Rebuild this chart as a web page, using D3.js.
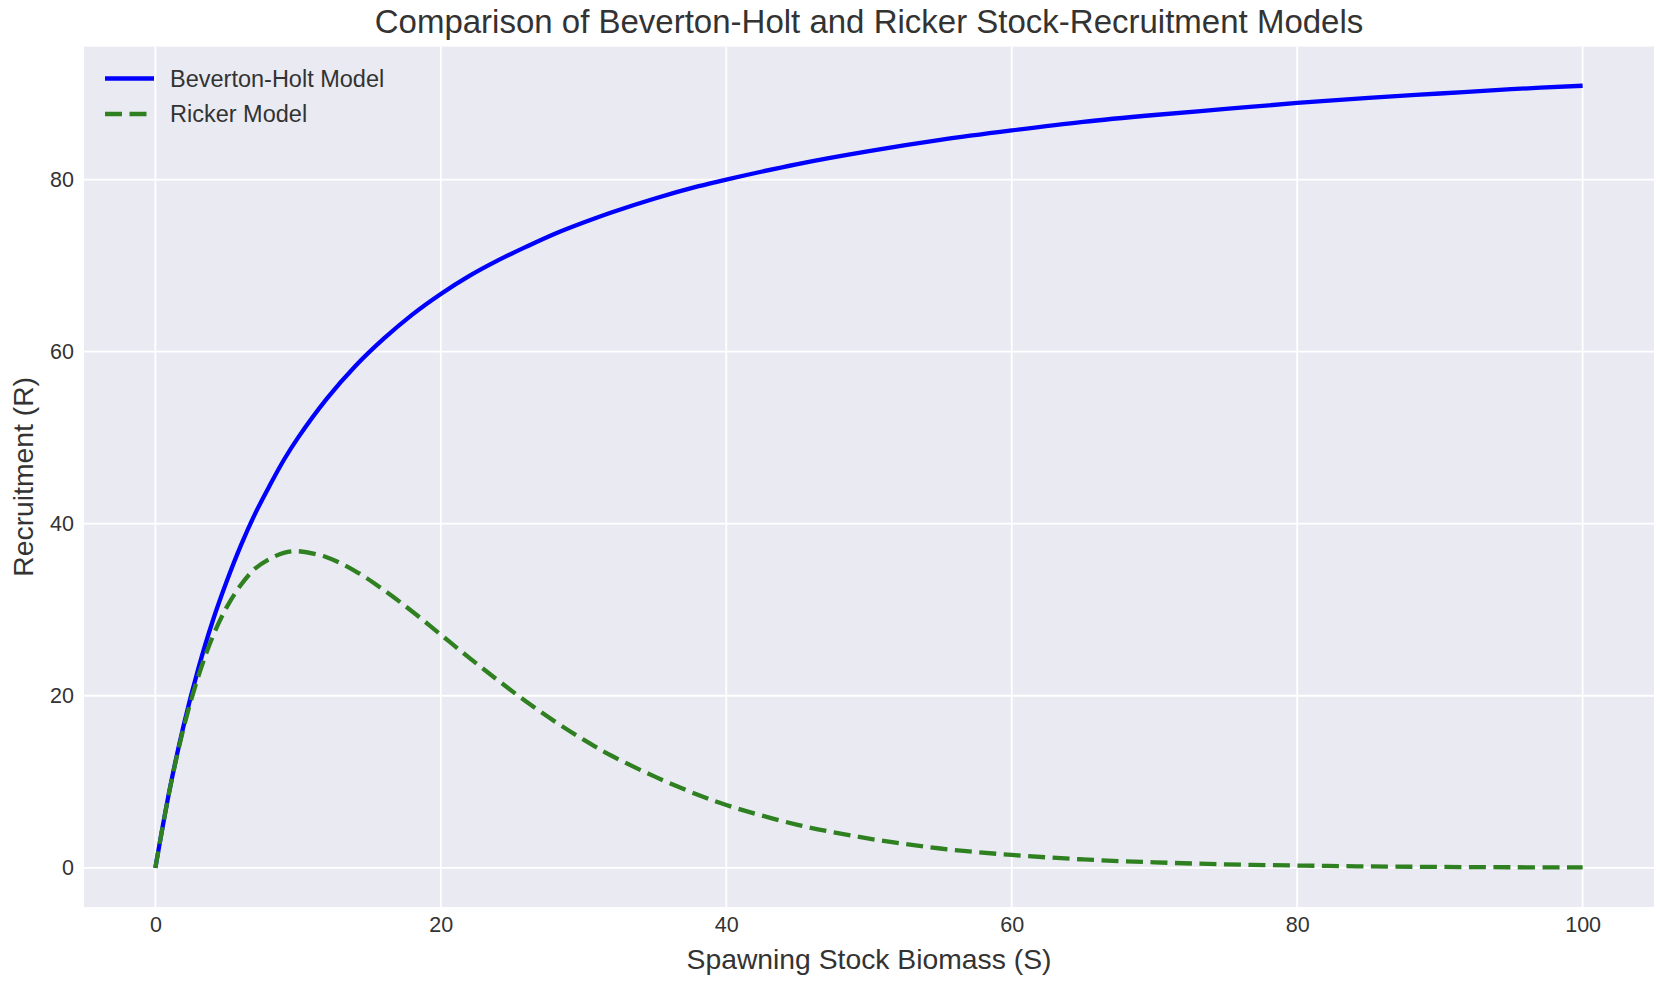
<!DOCTYPE html>
<html>
<head>
<meta charset="utf-8">
<script src="https://cdn.jsdelivr.net/npm/d3@7"></script>
<style>
  body { margin: 0; background: #fff; }
  svg text { font-family: "Liberation Sans", Arial, sans-serif; fill: #333; }
</style>
</head>
<body>
<svg id="chart"></svg>
<script>
(function(d3) {
  'use strict';

  // spawning stock biomass (x) and recruitment
  var stock = [0, 1, 2, 3, 4, 5, 6, 7, 8, 9, 10, 12, 14, 16, 18, 20, 22, 24, 26, 28, 30,
               32, 35, 38, 40, 45, 50, 55, 60, 65, 70, 75, 80, 85, 90, 95, 100];
  var bevertonHolt = [0, 9.1, 16.7, 23.1, 28.6, 33.3, 37.5, 41.2, 44.4, 47.4, 50.0, 54.5,
                      58.3, 61.5, 64.3, 66.7, 68.8, 70.6, 72.2, 73.7, 75.0,
                      76.2, 77.8, 79.2, 80.0, 81.8, 83.3, 84.6, 85.7, 86.7, 87.5, 88.2,
                      88.9, 89.5, 90.0, 90.5, 90.9];
  var ricker = [0, 9.05, 16.4, 22.2, 26.8, 30.3, 32.9, 34.8, 35.9, 36.6, 36.8, 36.1,
                34.5, 32.3, 29.8, 27.1, 24.4, 21.8, 19.3, 17.0, 14.9,
                13.0, 10.6, 8.5, 7.3, 5.0, 3.4, 2.25, 1.5, 0.98, 0.64, 0.41,
                0.27, 0.17, 0.11, 0.07, 0.05];
  var xTicks = [0, 20, 40, 60, 80, 100];
  var yTicks = [0, 20, 40, 60, 80];

  var width = 1660, height = 988;
  var left = 84, right = 1654, top = 46.6, bottom = 907;

  var svg = d3.select('#chart')
    .attr('width', width)
    .attr('height', height);

  var x = d3.scaleLinear().domain([-5, 105]).range([left, right]);
  var y = d3.scaleLinear().domain([-4.55, 95.45]).range([bottom, top]);

  svg.append('rect')
    .attr('x', left).attr('y', top)
    .attr('width', right - left).attr('height', bottom - top)
    .attr('fill', '#eaeaf2');

  // grid
  svg.append('g').selectAll('line')
    .data(xTicks).enter().append('line')
    .attr('x1', function(d) { return x(d); }).attr('x2', function(d) { return x(d); })
    .attr('y1', top).attr('y2', bottom)
    .attr('stroke', '#fff').attr('stroke-width', 1.8);
  svg.append('g').selectAll('line')
    .data(yTicks).enter().append('line')
    .attr('y1', function(d) { return y(d); }).attr('y2', function(d) { return y(d); })
    .attr('x1', left).attr('x2', right)
    .attr('stroke', '#fff').attr('stroke-width', 1.8);

  // axes, tick marks hidden like the seaborn style
  var xAxis = svg.append('g')
    .attr('transform', 'translate(0,' + bottom + ')')
    .call(d3.axisBottom(x).tickValues(xTicks).tickSize(0).tickPadding(10));
  var yAxis = svg.append('g')
    .attr('transform', 'translate(' + left + ',0)')
    .call(d3.axisLeft(y).tickValues(yTicks).tickSize(0).tickPadding(10));
  [xAxis, yAxis].forEach(function(a) {
    a.select('.domain').remove();
    a.selectAll('text')
      .style('font-family', '"Liberation Sans", Arial, sans-serif')
      .style('font-size', '21.5px')
      .attr('fill', '#333');
  });

  var line = function(values) {
    return d3.line()
      .x(function(d, i) { return x(stock[i]); })
      .y(function(d) { return y(d); })
      .curve(d3.curveCatmullRom.alpha(0.5))(values);
  };

  svg.append('path')
    .attr('d', line(bevertonHolt))
    .attr('fill', 'none')
    .attr('stroke', '#0000ff')
    .attr('stroke-width', 4.3);

  svg.append('path')
    .attr('d', line(ricker))
    .attr('fill', 'none')
    .attr('stroke', '#2e8020')
    .attr('stroke-width', 4.3)
    .attr('stroke-dasharray', '17,7.5');

  // title and axis labels
  svg.append('text')
    .attr('x', (left + right) / 2).attr('y', 33)
    .attr('text-anchor', 'middle')
    .style('font-size', '33px')
    .text('Comparison of Beverton-Holt and Ricker Stock-Recruitment Models');

  svg.append('text')
    .attr('x', (left + right) / 2).attr('y', 969)
    .attr('text-anchor', 'middle')
    .style('font-size', '28.3px')
    .text('Spawning Stock Biomass (S)');

  svg.append('text')
    .attr('transform', 'translate(33,' + ((top + bottom) / 2) + ') rotate(-90)')
    .attr('text-anchor', 'middle')
    .style('font-size', '28.3px')
    .text('Recruitment (R)');

  // legend
  var legend = [
    { label: 'Beverton-Holt Model', color: '#0000ff', dash: null },
    { label: 'Ricker Model', color: '#2e8020', dash: '17,7.5' }
  ];
  var lg = svg.append('g').selectAll('g')
    .data(legend).enter().append('g')
    .attr('transform', function(d, i) { return 'translate(0,' + (78.5 + i * 35.5) + ')'; });
  lg.append('line')
    .attr('x1', 105).attr('x2', 154)
    .attr('stroke', function(d) { return d.color; })
    .attr('stroke-width', 4.3)
    .attr('stroke-dasharray', function(d) { return d.dash; });
  lg.append('text')
    .attr('x', 170).attr('dy', '0.35em')
    .style('font-size', '23.5px')
    .text(function(d) { return d.label; });
})(window.d3);
</script>
</body>
</html>
